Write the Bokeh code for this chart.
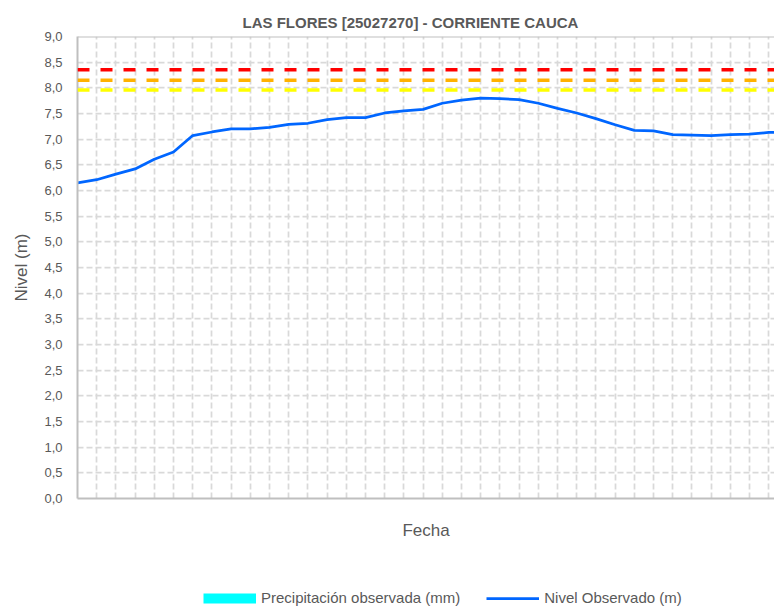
from bokeh.plotting import figure
from bokeh.layouts import column
from bokeh.models import Range1d, FixedTicker, CustomJSTickFormatter, Span, Legend, LegendItem
from bokeh.embed import file_html
from bokeh.resources import INLINE

# ---- data ----
titulo = "LAS FLORES [25027270] - CORRIENTE CAUCA"
indice = list(range(38))
nivel = [6.15, 6.21, 6.32, 6.42, 6.61, 6.75, 7.07, 7.14, 7.20, 7.20,
         7.23, 7.29, 7.31, 7.38, 7.42, 7.42, 7.51, 7.55, 7.58, 7.70,
         7.76, 7.80, 7.79, 7.77, 7.70, 7.60, 7.51, 7.40, 7.28, 7.17,
         7.16, 7.09, 7.08, 7.07, 7.09, 7.10, 7.13, 7.14]
precipitacion = [float("nan")]   # no precipitation observed: legend entry only
umbrales = [8.35, 8.15, 7.96]
umbral_colores = ["#ff0000", "#ffb200", "#ffff00"]
y_ticks = [0.0, 0.5, 1.0, 1.5, 2.0, 2.5, 3.0, 3.5, 4.0, 4.5, 5.0, 5.5,
           6.0, 6.5, 7.0, 7.5, 8.0, 8.5, 9.0]

FONT = "Liberation Sans"
GREY = "#595959"
BLUE = "#0066ff"
CYAN = "#00ffff"

p = figure(width=774, height=560, output_backend="svg", toolbar_location=None,
           x_range=Range1d(0, 36.3), y_range=Range1d(0, 9),
           min_border_left=77, min_border_right=0, min_border_top=36,
           min_border_bottom=62)
p.outline_line_color = None
p.background_fill_color = "white"
p.border_fill_color = "white"

p.title.text = titulo
p.title.text_font = FONT
p.title.text_font_size = "15px"
p.title.text_font_style = "bold"
p.title.text_color = GREY
p.title.align = "left"
p.title.offset = 165
p.title.standoff = 12

# grid
p.xgrid.ticker = FixedTicker(ticks=indice)
p.ygrid.ticker = FixedTicker(ticks=y_ticks)
for g in (p.xgrid[0], p.ygrid[0]):
    g.grid_line_color = "#d9d9d9"
    g.grid_line_width = 1.75
    g.grid_line_dash = "6 3"

# y axis
ya = p.yaxis[0]
ya.ticker = FixedTicker(ticks=y_ticks)
ya.formatter = CustomJSTickFormatter(code="return tick.toFixed(1).replace('.', ',');")
ya.major_tick_out = 0
ya.major_tick_in = 0
ya.minor_tick_out = 0
ya.minor_tick_in = 0
ya.major_label_standoff = 15
ya.major_label_text_font = FONT
ya.major_label_text_font_size = "13px"
ya.major_label_text_color = GREY
ya.axis_line_color = "#bfbfbf"
ya.axis_line_width = 2
ya.axis_label = "Nivel (m)"
ya.axis_label_text_font = FONT
ya.axis_label_text_font_size = "17px"
ya.axis_label_text_font_style = "normal"
ya.axis_label_text_color = GREY
ya.axis_label_standoff = 10

# x axis
xa = p.xaxis[0]
xa.ticker = FixedTicker(ticks=[])
xa.major_tick_out = 0
xa.minor_tick_out = 0
xa.major_label_text_font_size = "0px"
xa.axis_line_color = "#bfbfbf"
xa.axis_line_width = 2
xa.axis_label = "Fecha"
xa.axis_label_text_font = FONT
xa.axis_label_text_font_size = "17px"
xa.axis_label_text_font_style = "normal"
xa.axis_label_text_color = GREY
xa.axis_label_standoff = 22

# top border
p.add_layout(Span(location=y_ticks[-1], dimension="width", line_color="#bfbfbf", line_width=2))

# thresholds
for u, c in zip(umbrales, umbral_colores):
    p.add_layout(Span(location=u, dimension="width", line_color=c, line_width=3.5,
                      line_dash="12 11"))

p.line(x=indice, y=nivel, line_color=BLUE, line_width=2.75)

# ---- legend strip ----
q = figure(width=774, height=49, output_backend="svg", toolbar_location=None,
           x_axis_type=None, y_axis_type=None,
           x_range=Range1d(0, 1), y_range=Range1d(0, 1),
           min_border_left=0, min_border_right=0, min_border_top=0, min_border_bottom=0)
q.outline_line_color = None
q.xgrid.visible = False
q.ygrid.visible = False
q.background_fill_color = "white"
q.border_fill_color = "white"

r_prec = q.line(x=precipitacion, y=precipitacion, line_color=CYAN, line_width=10)
r_niv = q.line(x=precipitacion, y=precipitacion, line_color=BLUE, line_width=2.75)

legend = Legend(items=[LegendItem(label="Precipitación observada (mm)", renderers=[r_prec]),
                       LegendItem(label="Nivel Observado (m)", renderers=[r_niv])],
                orientation="horizontal", location=(126, 3))
legend.label_text_font = FONT
legend.label_text_font_size = "15px"
legend.label_text_color = GREY
legend.glyph_width = 53
legend.glyph_height = 12
legend.label_standoff = 5
legend.spacing = 26
legend.padding = 0
legend.margin = 0
legend.border_line_color = None
legend.background_fill_alpha = 0
q.add_layout(legend, "center")

layout = column(p, q, spacing=0)
open("out.html", "w").write(file_html(layout, INLINE))
